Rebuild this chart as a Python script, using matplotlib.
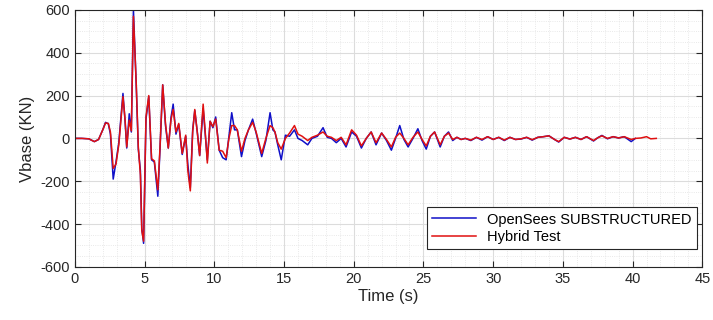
import numpy as np
import matplotlib
matplotlib.use("Agg")
from matplotlib import pyplot as plt
from matplotlib.ticker import MultipleLocator

plt.rcParams['font.family'] = ['Liberation Sans', 'DejaVu Sans']
plt.rcParams['axes.unicode_minus'] = False

# time grid (s) shared by both records
t = [0, 0.5, 1.0, 1.4, 1.7, 2.0, 2.2, 2.4, 2.55, 2.75, 2.95, 3.15, 3.45, 3.6, 3.72, 3.9,
     4.05, 4.2, 4.4, 4.55, 4.7, 4.8, 4.93, 5.1, 5.3, 5.5, 5.7, 5.95, 6.1, 6.3, 6.5,
     6.7, 6.9, 7.05, 7.25, 7.45, 7.7, 7.95, 8.1, 8.28, 8.45, 8.6, 8.8, 8.95, 9.2, 9.35, 9.5,
     9.7, 9.9, 10.1, 10.35, 10.6, 10.85, 11.05, 11.25, 11.45, 11.65, 11.95, 12.2, 12.45,
     12.75, 13.0, 13.2, 13.4, 13.7, 14.0, 14.2, 14.35, 14.55, 14.8, 15.1, 15.4, 15.75, 16.0,
     16.3, 16.7, 17.0, 17.4, 17.8, 18.1, 18.4, 18.75, 19.1, 19.45, 19.85, 20.2, 20.55, 20.9,
     21.25, 21.6, 22.0, 22.35, 22.7, 23.0, 23.3, 23.6, 23.9, 24.25, 24.6, 24.9, 25.2, 25.5,
     25.8, 26.2, 26.5, 26.8, 27.1, 27.4, 27.7, 28.0, 28.4, 28.8, 29.2, 29.6, 30.0, 30.4,
     30.8, 31.2, 31.6, 32.0, 32.4, 32.8, 33.2, 33.6, 34.0, 34.4, 34.7, 35.1, 35.5, 35.9,
     36.3, 36.7, 37.2, 37.5, 37.8, 38.2, 38.6, 39.0, 39.4, 39.9, 40.2]

# extra samples where only the hybrid test goes on
t_red_tail = [40.6, 41.0, 41.3, 41.7]

v_opensees = [0, 0, -2, -15, -5, 40, 75, 68, 20, -190, -110, -20, 210, 80, -45, 115,
              30, 600, 250, -50, -150, -420, -490, 90, 195, -100, -110, -270, -60, 250, 60,
              -45, 100, 160, 20, 65, -75, 10, -120, -230, 40, 130, 20, -80, 140, 20, -100,
              80, 50, 100, -55, -90, -100, 10, 120, 40, 40, -85, -10, 40,
              90, 25, -30, -85, -10, 120, 40, 30, -30, -100, 15, 10, 40, 0,
              -10, -30, 0, 10, 50, 5, 0, -20, 0, -40, 30, 10, -45, 0,
              30, -30, 25, -10, -55, 0, 60, -5, -40, 0, 45, -10, -50, 10,
              30, -40, 10, 30, -10, 5, -5, 0, -10, 5, -8, 8, -5, 5,
              -10, 5, -5, -3, 5, -8, 5, 8, 12, -5, -17, 5, -3, 5,
              -5, 8, -12, 3, 14, -2, 8, 2, 8, -15, 0]

v_hybrid = [0, 0, -2, -15, -5, 40, 72, 70, 30, -140, -120, -30, 195, 90, -40, 85,
            35, 570, 260, -40, -170, -430, -480, 100, 200, -95, -105, -240, -50, 250, 70,
            -45, 90, 135, 30, 70, -70, 15, -150, -245, 30, 135, 15, -80, 160, 30, -115,
            80, 55, 90, -55, -60, -90, 0, 60, 60, 40, -60, 0, 40,
            75, 30, -20, -70, 0, 60, 50, 30, -20, -50, 0, 25, 60, 20,
            10, -10, 5, 15, 30, 10, 5, -10, 5, -30, 40, 15, -35, 0,
            30, -20, 25, -5, -40, 5, 25, 0, -30, 5, 30, -5, -35, 10,
            30, -30, 10, 25, -5, 5, -5, 0, -8, 5, -5, 8, -5, 5,
            -8, 5, -5, -2, 5, -6, 5, 8, 12, -5, -15, 5, -3, 5,
            -5, 8, -10, 3, 12, 0, 8, 2, 8, -5, 0]
v_hybrid_tail = [2, 8, -2, 0]

fig = plt.figure(figsize=(7.13, 3.2), dpi=100)
ax = fig.add_axes([0.105, 0.166, 0.88, 0.803])

ax.plot(t, v_opensees, color="#1010c8", lw=1.1, label="OpenSees SUBSTRUCTURED")
ax.plot(t + t_red_tail, v_hybrid + v_hybrid_tail, color="#e01010", lw=1.1,
        label="Hybrid Test")

ax.set_xlim(0, 45)
ax.set_ylim(-600, 600)
ax.xaxis.set_major_locator(MultipleLocator(5))
ax.xaxis.set_minor_locator(MultipleLocator(1))
ax.yaxis.set_major_locator(MultipleLocator(200))
ax.yaxis.set_minor_locator(MultipleLocator(50))

ax.grid(True, which="major", color="#dcdcdc", lw=0.8, ls="-")
ax.grid(True, which="minor", color="#e2e2e2", lw=0.6, ls=":")
ax.set_axisbelow(True)

ax.tick_params(which="both", direction="in", top=True, right=True, labelsize=10.5,
               colors="#262626")
ax.tick_params(which="minor", length=0)
ax.tick_params(which="major", length=4)
for s in ax.spines.values():
    s.set_color("#262626")
    s.set_linewidth(0.8)

ax.set_xlabel("Time (s)", fontsize=12, color="#262626", labelpad=2)
ax.set_ylabel("Vbase (KN)", fontsize=12, color="#262626", labelpad=4)

leg = ax.legend(loc="lower right", fontsize=10.5, fancybox=False, framealpha=1,
                edgecolor="#262626", borderpad=0.35, labelspacing=0.25,
                handlelength=3.0, bbox_to_anchor=(1.003, 0.04))
leg.get_frame().set_linewidth(0.8)

plt.savefig("out.png", dpi=100)
